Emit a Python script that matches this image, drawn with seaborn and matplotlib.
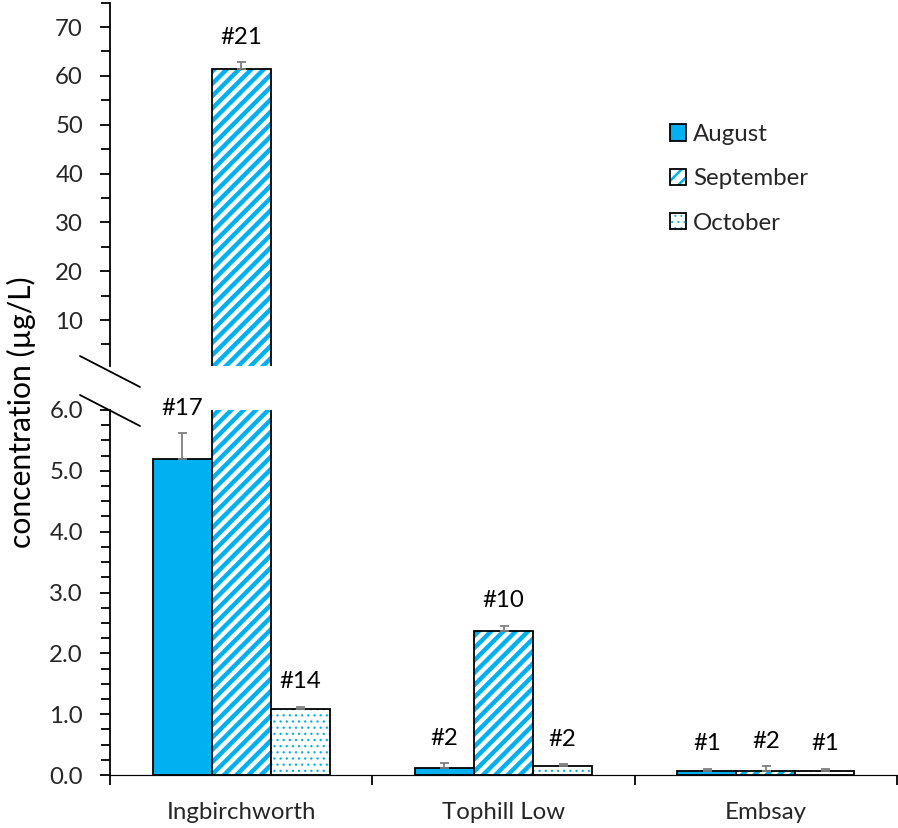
import matplotlib
matplotlib.use("Agg")
import numpy as np
import pandas as pd
import matplotlib.pyplot as plt
import seaborn as sns
from matplotlib.lines import Line2D
from matplotlib.ticker import MultipleLocator, FixedLocator

# data
sites = ["Ingbirchworth", "Tophill Low", "Embsay"]
months = ["August", "September", "October"]
aug_vals = [5.2, 0.11, 0.07]
sep_vals = [61.5, 2.37, 0.07]
oct_vals = [1.09, 0.15, 0.07]
aug_err = [0.42, 0.08, 0.03]
sep_err = [1.3, 0.08, 0.07]
oct_err = [0.03, 0.03, 0.03]
aug_n = ["#17", "#2", "#1"]
sep_n = ["#21", "#10", "#2"]
oct_n = ["#14", "#2", "#1"]

BLUE = "#00B0F0"
ERR_GREY = "#7F7F7F"
DPI = 74
W, H = 898, 828


def px(v):
    # pixels -> points at the figure dpi
    return v * 72.0 / DPI


def style_patch(p, hatch, hatch_lw):
    p.set_facecolor("white")
    p.set_hatch(hatch)
    p._hatch_color = matplotlib.colors.to_rgba(BLUE)
    p.set_hatch_linewidth(hatch_lw)


def main():
    sns.set_theme(style="white")
    plt.rcParams["font.family"] = ["Lato", "DejaVu Sans"]
    plt.rcParams["hatch.linewidth"] = px(4.4)

    df = pd.DataFrame({
        "site": sites * 3,
        "month": np.repeat(months, 3),
        "value": aug_vals + sep_vals + oct_vals,
    })
    errs = [aug_err, sep_err, oct_err]
    counts = [aug_n, sep_n, oct_n]

    fig = plt.figure(figsize=(W / DPI, H / DPI), dpi=DPI)
    left, right = 110 / W, 897 / W
    ax_lo = fig.add_axes([left, 1 - 775 / H, right - left, 365 / H])
    ax_hi = fig.add_axes([left, 1 - 366.4 / H, right - left, 363.8 / H])

    fs = px(24)
    for ax in (ax_lo, ax_hi):
        sns.barplot(data=df, x="site", y="value", hue="month", order=sites,
                    hue_order=months, palette=[BLUE] * 3, saturation=1,
                    width=0.675, gap=0, errorbar=None, legend=False,
                    edgecolor="black", linewidth=px(1.8), ax=ax)
        # restyle September (stripes) and October (dots)
        for p in ax.containers[1]:
            style_patch(p, "//", px(4.4))
        for p in ax.containers[2]:
            style_patch(p, "..", px(1.1))
        ax.set_xlim(-0.5, 2.5)
        ax.set_xlabel("")
        ax.set_ylabel("")
        for s in ("top", "right"):
            ax.spines[s].set_visible(False)
        ax.spines["left"].set_linewidth(px(1.8))
        ax.spines["left"].set_color("black")
        ax.tick_params(axis="y", which="major", direction="out", length=px(10),
                       width=px(1.8), color="black", left=True, labelsize=fs, pad=px(17))
        ax.tick_params(axis="y", which="minor", direction="out", length=px(9),
                       width=px(1.8), color="black", left=True)

    ax_lo.set_ylim(0, 6.0)
    ax_lo.yaxis.set_major_locator(MultipleLocator(1.0))
    ax_lo.yaxis.set_minor_locator(MultipleLocator(0.25))
    ax_lo.yaxis.set_major_formatter(matplotlib.ticker.FormatStrFormatter("%.1f"))
    ax_lo.spines["bottom"].set_color("black")
    ax_lo.spines["bottom"].set_linewidth(px(1.2))
    ax_lo.xaxis.set_minor_locator(FixedLocator([-0.5, 0.5, 1.5, 2.5]))
    ax_lo.tick_params(axis="x", which="major", length=0, labelsize=fs, pad=px(27))
    ax_lo.tick_params(axis="x", which="minor", direction="out", length=px(10),
                      width=px(1.8), color="black", bottom=True)

    ax_hi.set_ylim(0.5, 75)
    ax_hi.yaxis.set_major_locator(FixedLocator([10, 20, 30, 40, 50, 60, 70]))
    ax_hi.yaxis.set_minor_locator(MultipleLocator(5))
    ax_hi.spines["bottom"].set_visible(False)
    ax_hi.set_xticks([])
    ax_hi.patch.set_alpha(0)

    bars_lo = list(ax_lo.containers)
    bars_hi = list(ax_hi.containers)

    # upper panel only keeps the bars that exceed the lower panel's range
    for cont in bars_hi:
        for p in cont:
            if p.get_height() < 6.0:
                p.set_visible(False)

    # error bars (upward only) and sample counts
    for i, cont in enumerate(bars_lo):
        for j, p in enumerate(cont):
            xc = p.get_x() + p.get_width() / 2
            val = p.get_height()
            ax = ax_lo if val < 6.0 else ax_hi
            ax.errorbar(xc, val, yerr=[[0], [errs[i][j]]], fmt="none",
                        ecolor=ERR_GREY, elinewidth=px(1.8), capsize=px(4.5),
                        capthick=px(1.8), zorder=3)
            ax.annotate(counts[i][j], (xc, val + errs[i][j]), xytext=(0, px(25)),
                        textcoords="offset points", ha="center", va="center",
                        fontsize=fs, color="black")

    # axis break marks
    for yb in (1 - 371.5 / H, 1 - 410.5 / H):
        fig.add_artist(Line2D([left - 30 / W, left + 30 / W],
                              [yb + 15.5 / H, yb - 15.5 / H],
                              color="black", lw=px(1.8)))

    fig.text(21 / W, 1 - 412 / H, "concentration (µg/L)", rotation=90,
             ha="center", va="center", fontsize=px(30), color="black")

    handles = [bars_lo[k][0] for k in range(3)]
    leg = ax_hi.legend(handles, months, loc="upper left",
                       bbox_to_anchor=(670 / W, 1 - 124 / H),
                       bbox_transform=fig.transFigure, frameon=False,
                       fontsize=fs, handlelength=16 / 24, handleheight=16 / 24,
                       handletextpad=7 / 24, labelspacing=0.97,
                       borderpad=0, borderaxespad=0)
    leg.legend_handles[1].set_hatch_linewidth(px(2.5))
    leg.legend_handles[2].set_hatch_linewidth(px(0.8))

    fig.savefig("out.png", dpi=DPI)
    plt.close(fig)


if __name__ == "__main__":
    main()
